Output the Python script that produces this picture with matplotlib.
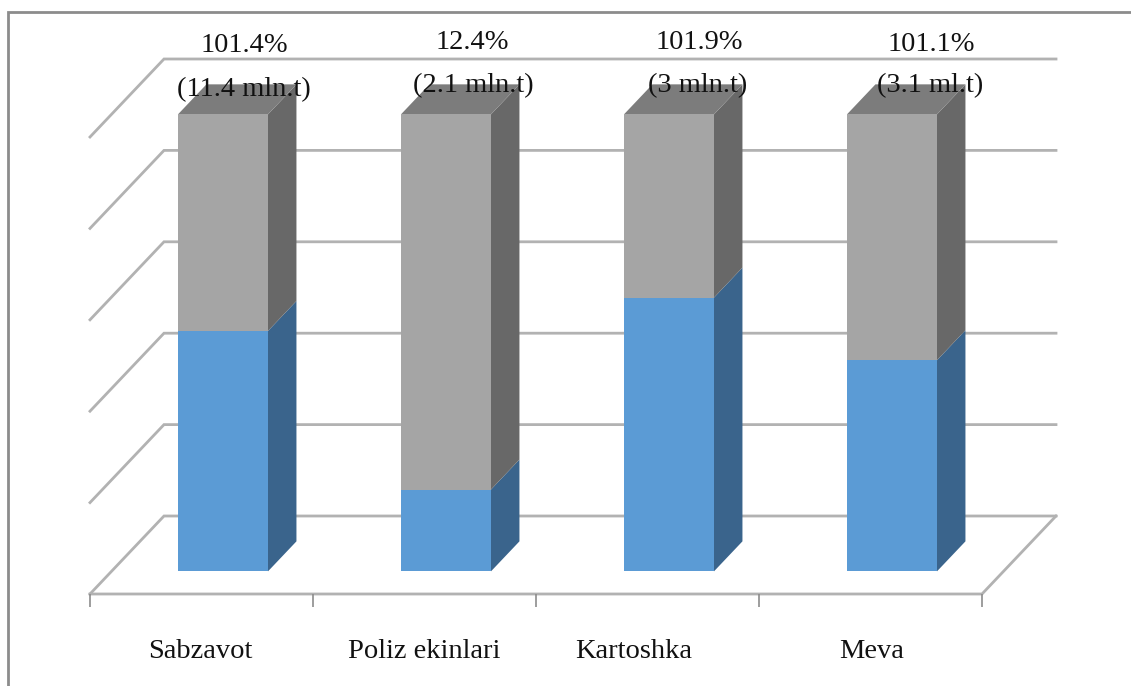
#!/usr/bin/env python3
"""Pseudo-3D stacked columns: share of production per crop group."""

import matplotlib

matplotlib.use("Agg")
import matplotlib.pyplot as plt
from matplotlib.patches import Polygon
import numpy as np

categories = ["Sabzavot", "Poliz ekinlari", "Kartoshka", "Meva"]
blue_share = [52.6, 17.9, 59.9, 46.2]
gray_share = [47.4, 82.1, 40.1, 53.8]
growth_labels = ["101.4%", "12.4%", "101.9%", "101.1%"]
amount_labels = ["(11.4 mln.t)", "(2.1 mln.t)", "(3 mln.t)", "(3.1 ml.t)"]
value_levels = [0, 20, 40, 60, 80, 100]

# Pixel scale of the plot: category units and percent on the wall.
W, H = 1131, 686
PX_X0, PX_Y0 = 90, 594
PX_PER_CAT = 223
PX_PER_PCT = 4.57
# Full floor depth expressed in data units.
DEPTH_X = 74 / PX_PER_CAT
DEPTH_Y = 78 / PX_PER_PCT
BAR_FRONT, BAR_BACK = 0.29, 0.675
BAR_WIDTH = 90 / PX_PER_CAT

FONT = "Liberation Serif"
FS = 20.5
GRID = "#b2b2b2"
FRAME = "#8c8c8c"
BLUE, BLUE_SIDE = "#5b9bd5", "#3a648c"
GRAY, GRAY_SIDE, GRAY_TOP = "#a5a5a5", "#686868", "#7c7c7c"

# Text anchors, in pixels.
CAT_LABEL_PX = [(200, 651), (424, 651), (634, 651), (872, 651)]
GROWTH_PX = [(244, 45), (472, 42), (699, 42), (931, 44)]
AMOUNT_PX = [(244, 90), (473, 86), (698, 86), (930, 86)]


def px(x, y):
    """Pixel position -> data coordinates."""
    return (x - PX_X0) / PX_PER_CAT, (PX_Y0 - y) / PX_PER_PCT


def main():
    fig = plt.figure(figsize=(W / 100, H / 100), dpi=100)
    ax = fig.add_axes([0, 0, 1, 1])
    ax.set_xlim(px(0, 0)[0], px(W, 0)[0])
    ax.set_ylim(px(0, H)[1], px(0, 0)[1])
    ax.axis("off")

    # Image frame (top and left only, the crop cuts the others).
    ax.plot(*zip(px(8, H), px(8, 11.5), px(W, 11.5)), color=FRAME, lw=2, zorder=1,
            solid_joinstyle="miter", solid_capstyle="butt")

    # Back wall lines with their diagonal on the side wall.
    n = len(categories)
    for level in value_levels:
        ax.plot([0, DEPTH_X, n + DEPTH_X], [level, level + DEPTH_Y, level + DEPTH_Y],
                color=GRID, lw=2, zorder=2, solid_joinstyle="miter")
    ax.plot([0, n, n + DEPTH_X], [0, 0, DEPTH_Y], color=GRID, lw=2, zorder=2,
            solid_joinstyle="miter")
    ax.vlines(np.arange(n + 1), px(0, 607)[1], 0, color=FRAME, lw=1.2, zorder=2)

    centers = np.arange(n) + 0.5 + BAR_FRONT * DEPTH_X
    lift = BAR_FRONT * DEPTH_Y
    dx = (BAR_BACK - BAR_FRONT) * DEPTH_X
    dy = (BAR_BACK - BAR_FRONT) * DEPTH_Y
    blue = np.array(blue_share)
    gray = np.array(gray_share)

    ax.bar(centers, blue, BAR_WIDTH, bottom=lift, color=BLUE, zorder=4)
    ax.bar(centers, gray, BAR_WIDTH, bottom=lift + blue, color=GRAY, zorder=4)

    for c, b, g in zip(centers, blue, gray):
        left, right = c - BAR_WIDTH / 2, c + BAR_WIDTH / 2
        y0, y1, y2 = lift, lift + b, lift + b + g
        ax.add_patch(Polygon([(right, y0), (right + dx, y0 + dy), (right + dx, y1 + dy), (right, y1)],
                             color=BLUE_SIDE, lw=0, zorder=3))
        ax.add_patch(Polygon([(right, y1), (right + dx, y1 + dy), (right + dx, y2 + dy), (right, y2)],
                             color=GRAY_SIDE, lw=0, zorder=3))
        ax.add_patch(Polygon([(left, y2), (right, y2), (right + dx, y2 + dy), (left + dx, y2 + dy)],
                             color=GRAY_TOP, lw=0, zorder=3))

    for labels, anchors in ((categories, CAT_LABEL_PX), (growth_labels, GROWTH_PX), (amount_labels, AMOUNT_PX)):
        for text, (x, y) in zip(labels, anchors):
            ax.text(*px(x, y), text, ha="center", va="center", family=FONT, fontsize=FS,
                    color="#111111", zorder=6)

    fig.savefig("out.png", dpi=100)
    plt.close(fig)


if __name__ == "__main__":
    main()
